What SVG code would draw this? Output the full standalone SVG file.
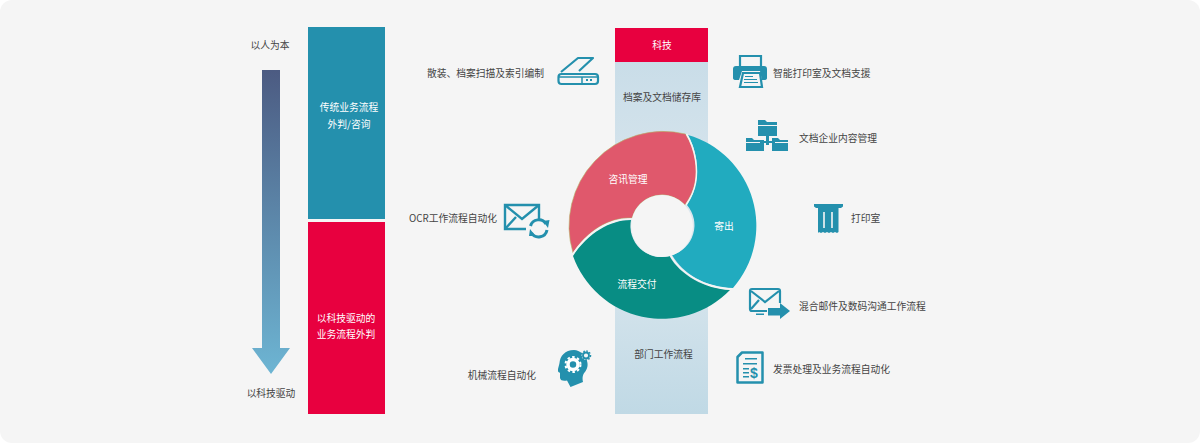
<svg xmlns="http://www.w3.org/2000/svg" width="1200" height="443" viewBox="0 0 1200 443">
<style>
text{font-family:"Noto Sans CJK SC","Noto Sans",sans-serif;font-size:9.750px;fill:#444}
.w{fill:#fff;text-anchor:middle}
.m{text-anchor:middle}
.e{text-anchor:end}
.i{fill:#2490ad}
.s{fill:none;stroke:#2490ad;stroke-width:2.200}
</style>
<defs>
<linearGradient id="ag" x1="0" y1="0" x2="0" y2="1"><stop offset="0" stop-color="#4c5b82"/><stop offset="1" stop-color="#6db5d3"/></linearGradient>
<linearGradient id="bg" x1="0" y1="0" x2="0" y2="1"><stop offset="0" stop-color="#c9dde8"/><stop offset=".5" stop-color="#dde8ef"/><stop offset="1" stop-color="#c0d9e5"/></linearGradient>
</defs>
<rect width="1200" height="443" fill="#fff"/>
<rect width="1200" height="443" rx="12" fill="#f5f5f5"/>
<g id="axis">
<text class="m" x="270" y="49">以人为本</text>
<path d="M262 70H280V348H290L271 374L252 348H262Z" fill="url(#ag)"/>
<text class="m" x="271" y="397">以科技驱动</text>
</g>
<g id="traditional"><rect x="308" y="27" width="77" height="192" fill="#2490ad"/>
<text class="w" x="349" y="111">传统业务流程</text><text class="w" x="349" y="128">外判/咨询</text></g>
<g id="techdriven"><rect x="308" y="222" width="77" height="192" fill="#e8003f"/>
<text class="w" x="346" y="322">以科技驱动的</text><text class="w" x="346" y="338">业务流程外判</text></g>
<g id="column"><rect x="615" y="62" width="93" height="352" fill="url(#bg)"/>
<text class="m" x="662" y="101">档案及文档储存库</text>
<text class="m" x="663.500" y="358">部门工作流程</text></g>
<g id="tech"><rect x="615" y="28" width="93" height="34" fill="#e8003f"/><text class="w" x="662" y="49">科技</text></g>
<g id="wheel">
<path id="red" d="M685.500 134C696 150 698 170 695 183C693 192 689 199 685 205A31 31 0 0 0 632 218C610 217 588 230 573 253A94.500 94.500 0 0 1 685.500 134Z" fill="#e0586c" stroke="#b5b56a" stroke-width=".6"/>
<path id="teal" d="M573 256C588 233 610 220 631 220A31 31 0 0 0 669.500 256C680 275 705 289 730 290A94.500 94.500 0 0 1 573 256Z" fill="#088d84"/>
<path id="cyan" d="M688 135A94.500 94.500 0 0 1 733 288C705 287 683 274 672 255A31 31 0 0 0 687 205C693 196 697 184 697 170C697 158 694 146 688 135Z" fill="#21abbf"/>
<path d="M686.500 134C696 150 698 170 695.500 183C694 192 690 199 686 205M572 255C588 231 610 218 632 219M670.500 255.500C681 274 705 288 732 289" fill="none" stroke="#f5f5f5" stroke-width="1.500"/>
<circle cx="662" cy="226" r="31" fill="#f5f5f5"/>
<text class="w" x="628" y="183">咨讯管理</text>
<text class="w" x="724" y="230">寄出</text>
<text class="w" x="637" y="288">流程交付</text>
</g>
<g id="scan">
<text class="e" x="544" y="77">散装、档案扫描及索引编制</text>
<path class="s" d="M561 72L578 58H593L579 71" stroke-linejoin="round"/>
<rect x="558.500" y="74" width="39.500" height="10" rx="3" fill="none" stroke="#2490ad" stroke-width="2.200"/>
<path class="s" d="M559 77H598M582 77V84" style="stroke-width:1.500"/>
<rect x="586" y="79" width="2" height="2" class="i"/><rect x="590" y="79" width="2" height="2" class="i"/>
</g>
<g id="printer">
<path class="s" d="M740 67V56H761V67"/>
<path class="i" d="M736 66H764Q767 66 767 69V78Q767 80 764 80H762L760 71H742L739 80H736Q733 80 733 78V69Q733 66 736 66Z"/>
<path class="s" d="M743 73H760L762 87H740Z"/>
<path class="i" d="M745 76H753V77H745ZM744 79H757V80H744ZM744 82H758V83H744Z"/>
<text x="773" y="77">智能打印室及文档支援</text>
</g>
<g id="ecm">
<path class="i" d="M758 120H765L767 122H777V125H758ZM758 126H777V136H758Z"/>
<path class="i" d="M766 136H769V145H766ZM760 141H775V143H760Z"/>
<path class="i" d="M746 138H752L754 140H764V142H746ZM746 143H764V151H746ZM772 138H778L780 140H788V142H772ZM772 143H788V151H772Z"/>
<text x="799" y="142">文档企业内容管理</text>
</g>
<g id="printroom">
<path class="i" d="M814 204H843V206.500L841 208H816L814 206.500Z"/>
<path class="i" d="M818 208H838.500V232L837 233L835 232L833 233L831 232L829 233L827 232L825 233L823 232L821 233L819 232L818 233Z"/>
<path d="M824 212V228M832 212V228" stroke="#f5f5f5" stroke-width="1.600"/>
<text x="851" y="222">打印室</text>
</g>
<g id="hybrid">
<path class="s" d="M767 311H752Q750 311 750 309V291Q750 289 752 289H778Q780 289 780 291V303"/>
<path class="s" d="M751 291L765 302L779 291M751 309L759 300"/>
<path class="i" d="M768 308H780V303L790 311L780 319V315.500H768ZM756 313.500H764V315H756Z"/>
<text x="799" y="310">混合邮件及数码沟通工作流程</text>
</g>
<g id="invoice">
<path d="M742 352.500H762.500V382.500H737.500V357Z" fill="none" stroke="#2490ad" stroke-width="2.500" stroke-linejoin="round"/>
<path class="i" d="M745 358H757V359.500H745ZM743 363H757V364.500H743ZM743 368H749V369.500H743ZM743 372H749V373.500H743ZM743 376H749V377.500H743Z"/>
<text x="754" y="378" style="font-size:14px;font-weight:700;fill:#2490ad;font-family:'Liberation Sans',sans-serif" text-anchor="middle">$</text>
<text x="773" y="373">发票处理及业务流程自动化</text>
</g>
<g id="ocr">
<text class="e" x="497" y="222">OCR工作流程自动化</text>
<path class="s" d="M526 229H505V205H539V219" style="stroke-width:2.400"/>
<path class="s" d="M505 205L522 219L539 205M505 229L516 217" style="stroke-width:2.400"/>
<path class="s" d="M530.500 226A8.500 8.500 0 0 1 546 224M547 230A8.500 8.500 0 0 1 531.500 233" style="stroke-width:3"/>
<path class="i" d="M543 221L549.500 220L548 228ZM529 236L535.500 236L530 229Z"/>
</g>
<g id="rpa">
<text class="e" x="536" y="379">机械流程自动化</text>
<path class="i" d="M574 350C565 350 560 356 559.500 363C559 366 557.500 369 558 371C558 372 559.500 372.500 560 373V378C560.500 381 564 381 567 380.500L570.500 387L583 382C582 377 583 374 585 372C588 368 588 364 587 361C585 355 580 350 574 350Z"/>
<circle cx="573" cy="364.500" r="5" fill="none" stroke="#fff" stroke-width="3.500"/>
<circle cx="573" cy="364.500" r="7.500" fill="none" stroke="#fff" stroke-width="2" stroke-dasharray="2.500 2.400"/>
<circle cx="586" cy="355.500" r="4.500" fill="#f5f5f5"/>
<circle cx="586" cy="355.500" r="3" fill="none" stroke="#2490ad" stroke-width="1.800"/>
<circle cx="586" cy="355.500" r="4.500" fill="none" stroke="#2490ad" stroke-width="1.500" stroke-dasharray="1.500 1.500"/>
</g>
</svg>
